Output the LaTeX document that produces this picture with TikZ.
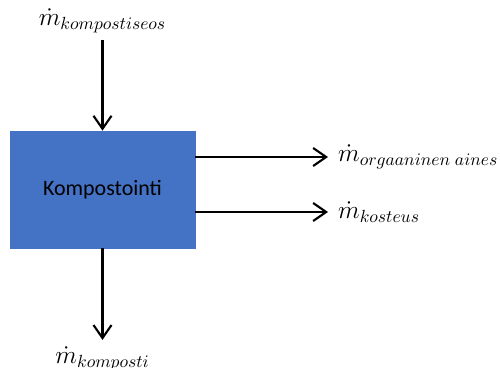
\documentclass[tikz,border=0pt]{standalone}
\usepackage{amsmath}
\usepackage{fontspec}
\newfontfamily\boxfont{Carlito}
\usetikzlibrary{positioning,arrows.meta}
\definecolor{processblue}{HTML}{4472C4}

\begin{document}
\begin{tikzpicture}[
        x=0.2mm, y=-0.2mm,
        flow/.style={-{Straight Barb[length=2.6mm,width=3.6mm]}, line width=1.2pt},
        process/.style={fill=processblue, draw=processblue, minimum width=3.7cm,
          minimum height=2.34cm, font=\boxfont\fontsize{12.5}{14}\selectfont},
        flowlabel/.style={font=\fontsize{14.5}{17}\selectfont, inner sep=1pt}
      ]
  \useasboundingbox (0,0) rectangle (500,367);

  \node[process] (box) at (102.5,189.5) {Kompostointi};

  \node[flowlabel] (mkin) at (102.5,21) {$\dot{m}_{kompostiseos}$};
  \node[flowlabel, anchor=west] (morg) at (336,157) {$\dot{m}_{orgaaninen\;aines}$};
  \node[flowlabel, anchor=west] (mkost) at (336,212) {$\dot{m}_{kosteus}$};
  \node[flowlabel] (mout) at (102.5,359) {$\dot{m}_{komposti}$};

  \draw[flow, shorten <=1mm] (mkin) -- (box);
  \draw[flow, shorten >=1.6mm] (box.east |- morg) -- (morg);
  \draw[flow, shorten >=1.6mm] (box.east |- mkost) -- (mkost);
  \draw[flow, shorten >=1mm] (box) -- (mout);

\end{tikzpicture}
\end{document}
